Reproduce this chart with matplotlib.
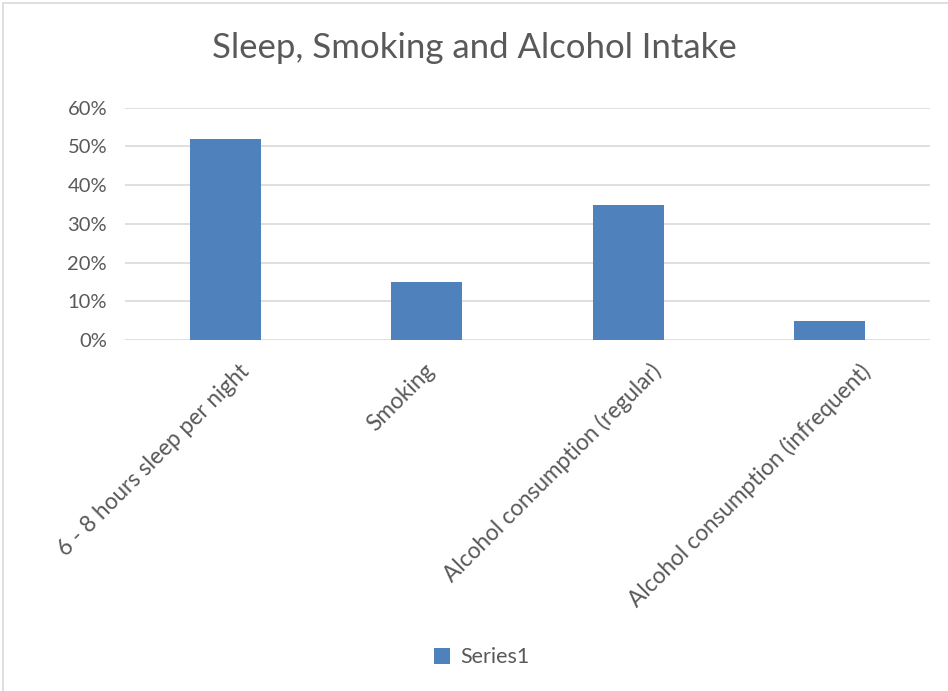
import matplotlib.pyplot as plt
from matplotlib.patches import Rectangle
from matplotlib.ticker import PercentFormatter
from matplotlib.transforms import ScaledTranslation

categories = ['6 - 8 hours sleep per night', 'Smoking',
              'Alcohol consumption (regular)', 'Alcohol consumption (infrequent)']
values = [0.52, 0.15, 0.35, 0.05]
yticks = [0.0, 0.1, 0.2, 0.3, 0.4, 0.5, 0.6]

TEXT = '#595959'
GRID = '#d9d9d9'
BAR = '#4f81bd'

plt.rcParams['font.family'] = ['Lato', 'DejaVu Sans']

fig = plt.figure(figsize=(9.48, 6.91), dpi=100)
fig.patches.append(Rectangle((0.003, -0.01), 1.2, 1.005, transform=fig.transFigure,
                             fill=False, edgecolor=GRID, linewidth=1.2))

ax = fig.add_axes([0.132, 0.508, 0.849, 0.336])
x = range(len(categories))
bars = ax.bar(x, values, width=0.353, color=BAR, label='Series1', zorder=3)

ax.set_xlim(-0.5, len(categories) - 0.5)
ax.set_ylim(0, 0.6)
ax.set_yticks(yticks)
ax.yaxis.set_major_formatter(PercentFormatter(1.0, decimals=0))
ax.grid(axis='y', color=GRID, linewidth=1.2, zorder=0)
for s in ax.spines.values():
    s.set_visible(False)
ax.tick_params(axis='both', length=0, colors=TEXT)
ax.tick_params(axis='y', pad=13, labelsize=14.5)

ax.set_xticks(list(x))
ax.set_xticklabels(categories, rotation=45, ha='right', va='center',
                   rotation_mode='anchor', color=TEXT, fontsize=16.3)
ax.tick_params(axis='x', pad=20)

# longer rotated labels sit a little further right of their category
shift_px = [20, 4, 30, 38]
for lab, dx in zip(ax.get_xticklabels(), shift_px):
    lab.set_transform(lab.get_transform() + ScaledTranslation(dx / 100, 0, fig.dpi_scale_trans))

fig.text(0.5, 0.93, 'Sleep, Smoking and Alcohol Intake', ha='center', va='center',
         color=TEXT, fontsize=25)

fig.legend(handles=[bars], labels=['Series1'], loc='center', bbox_to_anchor=(0.508, 0.049),
           frameon=False, fontsize=15.5, labelcolor=TEXT, handlelength=0.75,
           handleheight=0.75, handletextpad=0.45)

fig.savefig('out.png', dpi=100)
